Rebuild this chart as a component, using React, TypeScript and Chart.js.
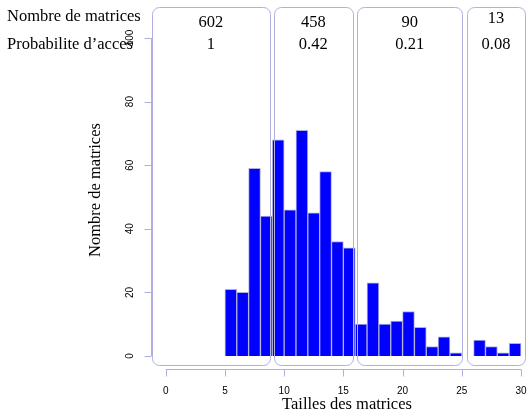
import React, { useEffect, useRef } from "react";
import { Chart, registerables } from "chart.js";

Chart.register(...registerables);

// Histogram bins (size classes, width 1) and counts
const binStarts = [5, 6, 7, 8, 9, 10, 11, 12, 13, 14, 15, 16, 17, 18, 19, 20, 21, 22, 23, 24, 25, 26, 27, 28, 29];
const binCounts = [21, 20, 59, 44, 68, 46, 71, 45, 58, 36, 34, 10, 23, 10, 11, 14, 9, 3, 6, 1, 0, 5, 3, 1, 4];

// x and y axis ticks
const xTicks = [0, 5, 10, 15, 20, 25, 30];
const yTicks = [0, 20, 40, 60, 80, 100];

// Groups drawn as rounded boxes (x extents in data units)
const groupLeft = [-1.14, 9.12, 16.19, 25.42];
const groupRight = [8.78, 15.8, 25.03, 30.36];
const groupCounts = ["602", "458", "90", "13"];
const groupProbs = ["1", "0.42", "0.21", "0.08"];

const rowLabels = ["Nombre de matrices", "Probabilite d\u2019acces"];
const xTitle = "Tailles des matrices";
const yTitle = "Nombre de matrices";

const LAV = "#b0b0e0";
const SERIF = "'Liberation Serif', 'Times New Roman', serif";
const SANS = "'Liberation Sans', Arial, sans-serif";

function roundRect(ctx: CanvasRenderingContext2D, x0: number, y0: number, x1: number, y1: number, r: number) {
  ctx.beginPath();
  ctx.moveTo(x0 + r, y0);
  ctx.lineTo(x1 - r, y0);
  ctx.arcTo(x1, y0, x1, y0 + r, r);
  ctx.lineTo(x1, y1 - r);
  ctx.arcTo(x1, y1, x1 - r, y1, r);
  ctx.lineTo(x0 + r, y1);
  ctx.arcTo(x0, y1, x0, y1 - r, r);
  ctx.lineTo(x0, y0 + r);
  ctx.arcTo(x0, y0, x0 + r, y0, r);
  ctx.closePath();
}

const decorPlugin = {
  id: "decor",
  afterDatasetsDraw(chart: any) {
    const { ctx, chartArea } = chart;
    const xs = chart.scales.x;
    const ys = chart.scales.y;
    ctx.save();

    // group boxes
    ctx.strokeStyle = LAV;
    ctx.lineWidth = 1;
    for (let i = 0; i < groupLeft.length; i++) {
      const x0 = Math.round(xs.getPixelForValue(groupLeft[i])) + 0.5;
      const x1 = Math.round(xs.getPixelForValue(groupRight[i])) + 0.5;
      roundRect(ctx, x0, chartArea.top + 0.5, x1, chartArea.bottom - 0.5, 7);
      ctx.stroke();
    }

    // group texts
    ctx.fillStyle = "#000";
    ctx.font = `16.5px ${SERIF}`;
    ctx.textAlign = "center";
    ctx.textBaseline = "middle";
    for (let i = 0; i < groupLeft.length; i++) {
      const cx = (xs.getPixelForValue(groupLeft[i]) + xs.getPixelForValue(groupRight[i])) / 2;
      const rowY = i === groupLeft.length - 1 ? 19 : 23;
      ctx.fillText(groupCounts[i], cx, rowY);
      ctx.fillText(groupProbs[i], cx, 45);
    }
    ctx.textAlign = "left";
    ctx.fillText(rowLabels[0], 7, 17);
    ctx.fillText(rowLabels[1], 7, 45);

    // y axis
    const yAxisX = chartArea.left + 1.5;
    const y0p = ys.getPixelForValue(yTicks[0]);
    const y1p = ys.getPixelForValue(yTicks[yTicks.length - 1]);
    ctx.strokeStyle = LAV;
    ctx.beginPath();
    ctx.moveTo(yAxisX, y0p);
    ctx.lineTo(yAxisX, y1p);
    for (const t of yTicks) {
      const p = Math.round(ys.getPixelForValue(t)) + 0.5;
      ctx.moveTo(yAxisX, p);
      ctx.lineTo(yAxisX - 7, p);
    }
    ctx.stroke();
    ctx.fillStyle = "#000";
    ctx.font = `10px ${SANS}`;
    ctx.textAlign = "center";
    ctx.textBaseline = "middle";
    for (const t of yTicks) {
      const p = ys.getPixelForValue(t);
      ctx.save();
      ctx.translate(130.5, p);
      ctx.rotate(-Math.PI / 2);
      ctx.fillText(String(t), 0, 0);
      ctx.restore();
    }

    // x axis
    const xAxisY = chartArea.bottom + 3.5;
    const xa = xs.getPixelForValue(xTicks[0]);
    const xb = xs.getPixelForValue(xTicks[xTicks.length - 1]);
    ctx.beginPath();
    ctx.moveTo(xa, xAxisY);
    ctx.lineTo(xb, xAxisY);
    for (const t of xTicks) {
      const p = Math.round(xs.getPixelForValue(t)) + 0.5;
      ctx.moveTo(p, xAxisY);
      ctx.lineTo(p, xAxisY + 7);
    }
    ctx.stroke();
    for (const t of xTicks) {
      ctx.fillText(String(t), xs.getPixelForValue(t), 391);
    }

    // titles
    ctx.font = `16.5px ${SERIF}`;
    ctx.fillText(xTitle, 347, 405);
    ctx.save();
    ctx.translate(96, 190);
    ctx.rotate(-Math.PI / 2);
    ctx.fillText(yTitle, 0, 0);
    ctx.restore();

    ctx.restore();
  },
};

export default function App() {
  const ref = useRef<HTMLCanvasElement | null>(null);
  useEffect(() => {
    if (!ref.current) return;
    const data = binStarts.map((s, i) => ({ x: s + 0.5, y: binCounts[i] }));
    const chart = new Chart(ref.current, {
      type: "bar",
      data: {
        datasets: [
          {
            data: data as any,
            backgroundColor: "#0000ff",
            borderColor: LAV,
            borderWidth: 1,
            barPercentage: 1,
            categoryPercentage: 1,
          },
        ],
      },
      options: {
        animation: false,
        responsive: false,
        layout: { padding: { left: 150, right: 4, top: 7, bottom: 48 } },
        plugins: { legend: { display: false }, tooltip: { enabled: false } },
        scales: {
          x: { type: "linear", min: -1.326, max: 30.338, display: false, offset: false },
          y: { type: "linear", min: -3.145, max: 109.75, display: false },
        },
      },
      plugins: [decorPlugin],
    });
    return () => chart.destroy();
  }, []);
  return (
    <div style={{ position: "fixed", left: 0, top: 0, width: 529, height: 414, background: "#fff" }}>
      <canvas ref={ref} width={529} height={414} />
    </div>
  );
}
